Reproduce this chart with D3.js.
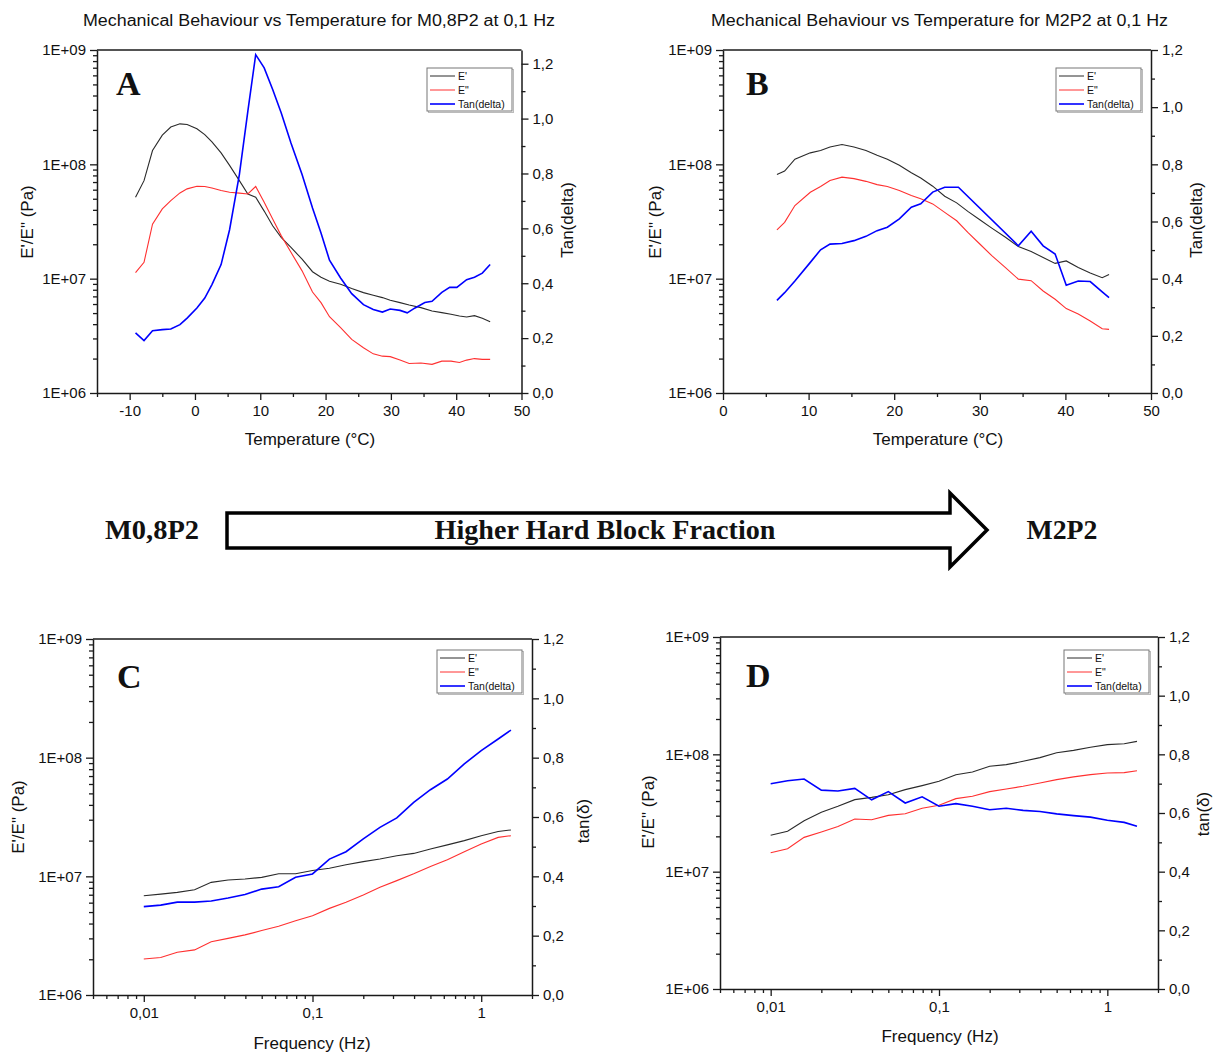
<!DOCTYPE html>
<html>
<head>
<meta charset="utf-8">
<script src="https://cdn.jsdelivr.net/npm/d3@7"></script>
<style>
  html, body { margin: 0; padding: 0; background: #fff; }
  svg { display: block; }
  text { fill: #111; }
</style>
</head>
<body>
<svg id="chart" width="1215" height="1052"></svg>
<script>
// ---------------- DATA ----------------
// Panel A: M0,8P2 temperature sweep at 0,1 Hz
const tempA = [-9.1,-7.8,-6.5,-5,-3.7,-2.3,-1.2,0.3,1.5,2.6,4,5.3,6.8,8.1,9.3,10.6,11.9,13.2,14.7,16.4,18,19.3,20.6,22.3,24,25.8,27.3,28.7,29.9,31.4,32.8,34.6,36.3,37.8,39.2,40.5,41.6,42.8,44,45.2];
const storageA = [5.15e7,7.2e7,1.32e8,1.8e8,2.12e8,2.26e8,2.23e8,2.05e8,1.82e8,1.57e8,1.26e8,9.8e7,7.2e7,5.5e7,5.15e7,3.9e7,2.9e7,2.3e7,1.88e7,1.48e7,1.15e7,1.03e7,9.5e6,8.94e6,8.19e6,7.55e6,7.16e6,6.83e6,6.47e6,6.17e6,5.89e6,5.58e6,5.22e6,5.05e6,4.88e6,4.71e6,4.62e6,4.75e6,4.5e6,4.2e6];
const lossA = [1.13e7,1.39e7,3.0e7,4.07e7,4.82e7,5.62e7,6.1e7,6.44e7,6.4e7,6.2e7,5.9e7,5.7e7,5.6e7,5.5e7,6.4e7,4.66e7,3.32e7,2.38e7,1.7e7,1.17e7,7.65e6,6.17e6,4.65e6,3.73e6,2.94e6,2.49e6,2.2e6,2.1e6,2.08e6,1.94e6,1.81e6,1.83e6,1.78e6,1.9e6,1.9e6,1.85e6,1.94e6,2.0e6,1.97e6,1.97e6];
const tanTempA = [-9.1,-7.8,-6.5,-5,-3.7,-2.3,-1.2,0.3,1.5,2.6,4,5.3,6.8,8.1,9.3,10.6,11.9,13.2,14.7,16.4,18,19.3,20.6,22.3,24,25.8,27.3,28.7,29.9,31.4,32.5,33.7,35.2,36.3,37.8,39,40.1,41.6,42.8,44,45.2];
const tanA = [0.219,0.191,0.227,0.231,0.233,0.249,0.273,0.31,0.346,0.395,0.468,0.595,0.796,1.027,1.233,1.185,1.106,1.021,0.911,0.796,0.674,0.583,0.484,0.419,0.362,0.322,0.304,0.295,0.306,0.301,0.292,0.31,0.33,0.334,0.367,0.385,0.385,0.413,0.422,0.437,0.468];

// Panel B: M2P2 temperature sweep at 0,1 Hz
const tempB = [6.3,7.2,8.4,10.2,11.4,12.5,13.9,15.3,16.7,18,19.2,20.6,22,23.1,24.5,25.9,27.3,28.6,30,31.4,33,34.5,36,37.4,38.8,40.1,41.5,42.9,44.3,45.1];
const storageB = [8.15e7,8.73e7,1.11e8,1.26e8,1.32e8,1.42e8,1.49e8,1.42e8,1.32e8,1.2e8,1.11e8,9.8e7,8.43e7,7.6e7,6.44e7,5.26e7,4.6e7,3.88e7,3.28e7,2.77e7,2.3e7,1.91e7,1.73e7,1.53e7,1.36e7,1.43e7,1.25e7,1.12e7,1.02e7,1.09e7];
const lossB = [2.67e7,3.11e7,4.36e7,5.7e7,6.4e7,7.23e7,7.73e7,7.5e7,7.1e7,6.65e7,6.4e7,5.9e7,5.33e7,4.99e7,4.51e7,3.8e7,3.21e7,2.54e7,2.01e7,1.59e7,1.25e7,9.9e6,9.6e6,7.8e6,6.6e6,5.47e6,4.9e6,4.27e6,3.65e6,3.6e6];
const tanTempB = [6.3,7.2,8.4,10.2,11.4,12.5,13.9,15.3,16.7,18,19.2,20.6,22,23.1,24.5,25.9,27.5,34.5,36,37.4,38.8,40.1,41.5,42.9,44.3,45.1];
const tanB = [0.324,0.351,0.392,0.457,0.501,0.521,0.523,0.533,0.548,0.568,0.58,0.609,0.65,0.662,0.703,0.72,0.72,0.515,0.566,0.515,0.486,0.377,0.392,0.39,0.354,0.334];

// Panels C and D: frequency sweeps
const freq = [0.01,0.0126,0.0158,0.02,0.0251,0.0316,0.0398,0.05,0.063,0.0794,0.1,0.126,0.158,0.2,0.251,0.316,0.398,0.5,0.63,0.794,1,1.26,1.5];
const storageC = [6.87e6,7.08e6,7.33e6,7.72e6,8.9e6,9.3e6,9.5e6,9.8e6,1.05e7,1.05e7,1.12e7,1.17e7,1.25e7,1.33e7,1.4e7,1.49e7,1.56e7,1.7e7,1.84e7,2.0e7,2.2e7,2.39e7,2.46e7];
const lossC = [2.01e6,2.07e6,2.29e6,2.4e6,2.81e6,3.0e6,3.21e6,3.49e6,3.79e6,4.23e6,4.66e6,5.37e6,6.04e6,6.97e6,8.08e6,9.2e6,1.05e7,1.21e7,1.38e7,1.61e7,1.87e7,2.13e7,2.2e7];
const tanC = [0.298,0.303,0.313,0.313,0.317,0.327,0.339,0.357,0.365,0.397,0.408,0.458,0.483,0.526,0.565,0.597,0.649,0.692,0.728,0.779,0.824,0.863,0.893];
const storageD = [2.04e7,2.21e7,2.72e7,3.21e7,3.61e7,4.11e7,4.3e7,4.53e7,5.0e7,5.41e7,5.89e7,6.71e7,7.07e7,7.91e7,8.17e7,8.72e7,9.37e7,1.03e8,1.08e8,1.15e8,1.21e8,1.23e8,1.29e8];
const lossD = [1.45e7,1.57e7,1.96e7,2.18e7,2.43e7,2.81e7,2.77e7,3.02e7,3.12e7,3.47e7,3.68e7,4.19e7,4.39e7,4.81e7,5.07e7,5.34e7,5.7e7,6.09e7,6.42e7,6.71e7,6.94e7,6.99e7,7.24e7];
const tanD = [0.7,0.71,0.716,0.678,0.675,0.684,0.645,0.673,0.634,0.655,0.623,0.632,0.623,0.611,0.616,0.609,0.605,0.597,0.591,0.586,0.575,0.568,0.555];

// Tick values / labels
const modulusTicks = [1e6,1e7,1e8,1e9];
const tanTicks = [0,0.2,0.4,0.6,0.8,1.0,1.2];
const tanMinorTicks = [0.1,0.3,0.5,0.7,0.9,1.1];
const tempTicks = [-10,0,10,20,30,40,50];
const tempTicksB = [0,10,20,30,40,50];
const freqTicks = [0.01,0.1,1];
const legendLabels = ["E'", 'E"', "Tan(delta)"];
const titles = ["Mechanical Behaviour vs Temperature for M0,8P2 at 0,1 Hz", "Mechanical Behaviour vs Temperature for M2P2 at 0,1 Hz"];
const arrowLabels = ["M0,8P2", "Higher Hard Block Fraction", "M2P2"];

// ---------------- DRAWING ----------------
const SANS = '"Liberation Sans", Arial, sans-serif';
const SERIF = '"Liberation Serif", "Times New Roman", serif';
const svg = d3.select('#chart').style('font-family', SANS);
const AX = '#1a1a1a';
const colors = { s: '#2a2a2a', l: '#ff3030', t: '#0000ff' };

function fmtE(d) { const e = Math.round(Math.log10(d)); return '1E+' + (e < 10 ? '0' : '') + e; }
function fmtComma(d) { return d3.format('.1f')(d).replace('.', ','); }
function fmtFreq(d) { return String(d).replace('.', ','); }
function fmtInt(d) { return String(d); }

function minorLog(lo, hi) {
  const out = [];
  for (let e = Math.floor(Math.log10(lo)); e <= Math.ceil(Math.log10(hi)); e++) {
    for (let m = 2; m <= 9; m++) { const v = m * Math.pow(10, e); if (v >= lo * 0.999 && v <= hi * 1.001) out.push(v); }
  }
  return out;
}

function styleAxis(sel, fs) {
  sel.attr('font-family', null);
  sel.select('.domain').attr('stroke', AX).attr('stroke-width', 1.5);
  sel.selectAll('.tick line').attr('stroke', AX).attr('stroke-width', 1.3);
  sel.selectAll('.tick text').attr('font-size', fs).attr('fill', '#111').style('font-family', SANS);
}

function drawPanel(p) {
  const g = svg.append('g');
  const x = p.xLog
    ? d3.scaleLog().domain(p.xDomain).range([p.left, p.right])
    : d3.scaleLinear().domain(p.xDomain).range([p.left, p.right]);
  const y = d3.scaleLog().domain([1e6, 1e9]).range([p.bottom, p.top]);
  const y2 = d3.scaleLinear().domain([0, p.tanMax]).range([p.bottom, p.top]);

  g.append('line').attr('x1', p.left).attr('x2', p.right).attr('y1', p.top).attr('y2', p.top)
    .attr('stroke', AX).attr('stroke-width', 1.5);

  const la = g.append('g').attr('transform', `translate(${p.left},0)`)
    .call(d3.axisLeft(y).tickValues(modulusTicks).tickFormat(fmtE).tickSize(7).tickPadding(4).tickSizeOuter(0));
  styleAxis(la, 15);
  const lam = g.append('g').attr('transform', `translate(${p.left},0)`)
    .call(d3.axisLeft(y).tickValues(minorLog(1e6, 1e9).filter(v => modulusTicks.indexOf(v) < 0)).tickFormat('').tickSize(4).tickSizeOuter(0));
  lam.select('.domain').remove(); styleAxis(lam, 15);

  const ra = g.append('g').attr('transform', `translate(${p.right},0)`)
    .call(d3.axisRight(y2).tickValues(tanTicks).tickFormat(fmtComma).tickSize(7).tickPadding(4).tickSizeOuter(0));
  styleAxis(ra, 15);
  const ram = g.append('g').attr('transform', `translate(${p.right},0)`)
    .call(d3.axisRight(y2).tickValues(tanMinorTicks).tickFormat('').tickSize(4).tickSizeOuter(0));
  ram.select('.domain').remove(); styleAxis(ram, 15);

  const ba = g.append('g').attr('transform', `translate(0,${p.bottom})`)
    .call(d3.axisBottom(x).tickValues(p.xMajor).tickFormat(p.xFormat).tickSize(7).tickPadding(5).tickSizeOuter(0));
  styleAxis(ba, 15);
  const bam = g.append('g').attr('transform', `translate(0,${p.bottom})`)
    .call(d3.axisBottom(x).tickValues(p.xMinor).tickFormat('').tickSize(4).tickSizeOuter(0));
  bam.select('.domain').remove(); styleAxis(bam, 15);

  const mk = (xs, ys, sc) => d3.line().x((d, i) => x(xs[i])).y((d) => sc(d))(ys);
  g.append('path').attr('d', mk(p.xs, p.storage, y)).attr('fill', 'none').attr('stroke', colors.s).attr('stroke-width', 1.1);
  g.append('path').attr('d', mk(p.xs, p.loss, y)).attr('fill', 'none').attr('stroke', colors.l).attr('stroke-width', 1.1);
  g.append('path').attr('d', mk(p.tanXs, p.tan, y2)).attr('fill', 'none').attr('stroke', colors.t).attr('stroke-width', 1.6);

  g.append('text').attr('x', p.xTitle[0]).attr('y', p.xTitle[1]).attr('text-anchor', 'middle')
    .attr('font-size', 17).text(p.xLabel);
  g.append('text').attr('transform', `translate(${p.yTitle[0]},${p.yTitle[1]}) rotate(-90)`)
    .attr('text-anchor', 'middle').attr('font-size', 17).text("E'/E\" (Pa)");
  g.append('text').attr('transform', `translate(${p.y2Title[0]},${p.y2Title[1]}) rotate(-90)`)
    .attr('text-anchor', 'middle').attr('font-size', 17).text(p.y2Label);

  g.append('text').attr('x', p.letterPos[0]).attr('y', p.letterPos[1])
    .style('font-family', SERIF).attr('font-weight', 'bold')
    .attr('font-size', 34).text(p.letter);

  const lx = p.legend[0], ly = p.legend[1], lw = 85, lh = 43;
  g.append('rect').attr('x', lx + 1.5).attr('y', ly + 1.5).attr('width', lw).attr('height', lh)
    .attr('fill', 'none').attr('stroke', '#bbb').attr('stroke-width', 1);
  g.append('rect').attr('x', lx).attr('y', ly).attr('width', lw).attr('height', lh)
    .attr('fill', '#fff').attr('stroke', '#777').attr('stroke-width', 1);
  const lc = [colors.s, colors.l, colors.t], lwid = [1, 1, 1.6];
  legendLabels.forEach((lab, i) => {
    const cy = ly + 8 + i * 14;
    g.append('line').attr('x1', lx + 3).attr('x2', lx + 28).attr('y1', cy).attr('y2', cy)
      .attr('stroke', lc[i]).attr('stroke-width', lwid[i]);
    g.append('text').attr('x', lx + 31).attr('y', cy + 4).attr('font-size', 10.5).text(lab);
  });

  if (p.title) {
    g.append('text').attr('x', p.title[1]).attr('y', 26).attr('text-anchor', 'middle')
      .attr('font-size', 16).attr('textLength', p.title[2]).attr('lengthAdjust', 'spacingAndGlyphs').text(p.title[0]);
  }
}

const range5 = (a, b, s) => { const o = []; for (let v = a; v <= b + 1e-9; v += s) o.push(v); return o; };

drawPanel({
  left: 97, right: 521.5, top: 50, bottom: 393,
  xLog: false, xDomain: [-15, 50], xMajor: tempTicks, xMinor: range5(-15, 45, 10), xFormat: fmtInt,
  tanMax: 1.25, xs: tempA, storage: storageA, loss: lossA, tanXs: tanTempA, tan: tanA,
  xLabel: 'Temperature (°C)', xTitle: [310, 445], yTitle: [33, 222], y2Label: 'Tan(delta)', y2Title: [573, 220],
  letter: 'A', letterPos: [116, 95], legend: [427, 68], title: [titles[0], 319, 472]
});
drawPanel({
  left: 723, right: 1151, top: 50, bottom: 393,
  xLog: false, xDomain: [0, 50], xMajor: tempTicksB, xMinor: range5(5, 45, 10), xFormat: fmtInt,
  tanMax: 1.2, xs: tempB, storage: storageB, loss: lossB, tanXs: tanTempB, tan: tanB,
  xLabel: 'Temperature (°C)', xTitle: [938, 445], yTitle: [661, 222], y2Label: 'Tan(delta)', y2Title: [1202, 220],
  letter: 'B', letterPos: [746, 95], legend: [1056, 68], title: [titles[1], 939.5, 457]
});
drawPanel({
  left: 93, right: 532, top: 639, bottom: 995,
  xLog: true, xDomain: [0.005, 2], xMajor: freqTicks, xMinor: minorLog(0.005, 2).filter(v => freqTicks.indexOf(v) < 0), xFormat: fmtFreq,
  tanMax: 1.2, xs: freq, storage: storageC, loss: lossC, tanXs: freq, tan: tanC,
  xLabel: 'Frequency (Hz)', xTitle: [312, 1049], yTitle: [24, 817], y2Label: 'tan(δ)', y2Title: [589, 821],
  letter: 'C', letterPos: [117, 688], legend: [437, 650]
});
drawPanel({
  left: 720, right: 1158, top: 637, bottom: 989,
  xLog: true, xDomain: [0.005, 2], xMajor: freqTicks, xMinor: minorLog(0.005, 2).filter(v => freqTicks.indexOf(v) < 0), xFormat: fmtFreq,
  tanMax: 1.2, xs: freq, storage: storageD, loss: lossD, tanXs: freq, tan: tanD,
  xLabel: 'Frequency (Hz)', xTitle: [940, 1042], yTitle: [654, 812], y2Label: 'tan(δ)', y2Title: [1209, 814],
  letter: 'D', letterPos: [746, 687], legend: [1064, 650]
});

// ---------------- ARROW ----------------
const ag = svg.append('g');
const ap = d3.path();
ap.moveTo(227, 513); ap.lineTo(950, 513); ap.lineTo(950, 493); ap.lineTo(987, 530);
ap.lineTo(950, 567); ap.lineTo(950, 548); ap.lineTo(227, 548); ap.closePath();
ag.append('path').attr('d', ap.toString()).attr('fill', '#fff').attr('stroke', '#000').attr('stroke-width', 3.5).attr('stroke-linejoin', 'miter');
ag.append('text').attr('x', 152).attr('y', 539).attr('text-anchor', 'middle').style('font-family', SERIF)
  .attr('font-weight', 'bold').attr('font-size', 27).attr('textLength', 94).attr('lengthAdjust', 'spacingAndGlyphs').text(arrowLabels[0]);
ag.append('text').attr('x', 605).attr('y', 539).attr('text-anchor', 'middle').style('font-family', SERIF)
  .attr('font-weight', 'bold').attr('font-size', 28).attr('textLength', 341).attr('lengthAdjust', 'spacingAndGlyphs').text(arrowLabels[1]);
ag.append('text').attr('x', 1062).attr('y', 539).attr('text-anchor', 'middle').style('font-family', SERIF)
  .attr('font-weight', 'bold').attr('font-size', 27).attr('textLength', 71).attr('lengthAdjust', 'spacingAndGlyphs').text(arrowLabels[2]);
</script>
</body>
</html>
